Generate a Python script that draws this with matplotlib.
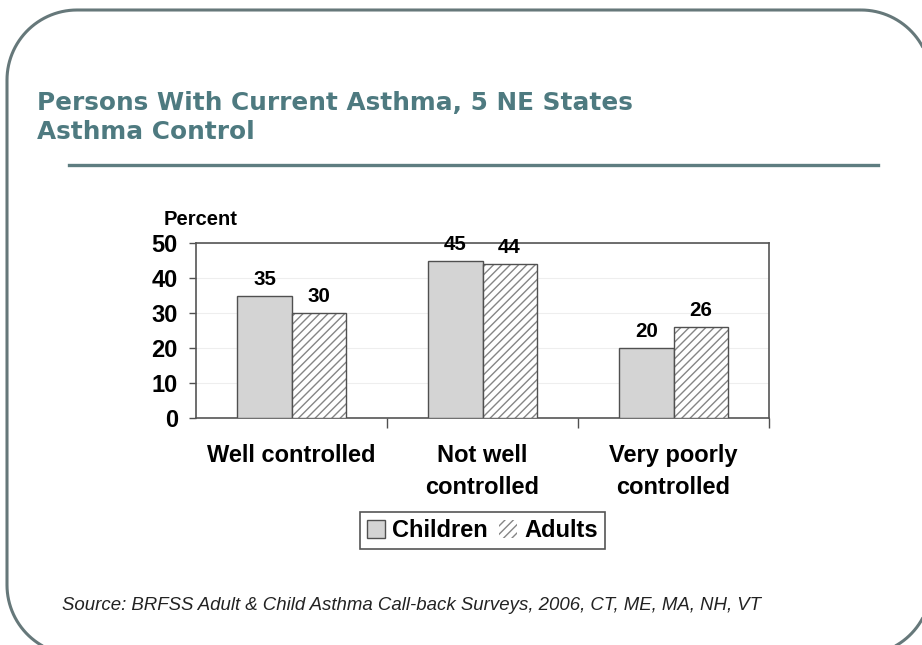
import numpy as np
import matplotlib
matplotlib.use("Agg")
import matplotlib.pyplot as plt
from matplotlib.lines import Line2D

# dados
categorias = ["Well controlled", "Not well\ncontrolled", "Very poorly\ncontrolled"]
criancas = [35, 45, 20]
adultos = [30, 44, 26]
series = ["Children", "Adults"]
yticks = [0, 10, 20, 30, 40, 50]

titulo = "Persons With Current Asthma, 5 NE States\nAsthma Control"
fonte = "Source: BRFSS Adult & Child Asthma Call-back Surveys, 2006, CT, ME, MA, NH, VT"

plt.rcParams['font.family'] = ['Liberation Sans', 'DejaVu Sans']

fig = plt.figure(figsize=(9.22, 6.45), dpi=100)
W, H = 922, 645


def retangulo_arredondado(x0, y0, x1, y1, r, n=30):
    """Contorno de um retângulo com cantos arredondados (em pixels)."""
    xs, ys = [], []
    cantos = [(x1 - r, y0 + r, -90, 0), (x1 - r, y1 - r, 0, 90),
              (x0 + r, y1 - r, 90, 180), (x0 + r, y0 + r, 180, 270)]
    for cx, cy, a0, a1 in cantos:
        t = np.radians(np.linspace(a0, a1, n))
        xs.extend(cx + r * np.cos(t))
        ys.extend(cy + r * np.sin(t))
    xs.append(xs[0])
    ys.append(ys[0])
    return xs, ys


# camada de fundo em pixels para a moldura do slide
fundo = fig.add_axes([0, 0, 1, 1], zorder=-1)
fundo.set_xlim(0, W)
fundo.set_ylim(H, 0)
fundo.axis("off")
mx, my = retangulo_arredondado(7, 10, 931, 655, 70)
fundo.plot(mx, my, color="#66787a", linewidth=2.2, clip_on=False,
           solid_capstyle="butt", solid_joinstyle="round")
fundo.add_line(Line2D([69, 878], [165, 165], color="#5e7d80", linewidth=2.4))

# título
fig.text(37 / W, 1 - 91 / H, titulo, ha="left", va="top", fontsize=17.8,
         fontweight="heavy", color="#4e7a80", family="DejaVu Sans",
         linespacing=1.24)

# --- gráfico de barras ---
ax = fig.add_axes([196 / W, 1 - 418 / H, 573 / W, 175 / H])
x = np.arange(len(categorias))
largura = 0.283

plt.rcParams['hatch.color'] = "#858585"
plt.rcParams['hatch.linewidth'] = 1.0
b1 = ax.bar(x - largura / 2, criancas, largura, color="#d4d4d4",
            edgecolor="#505050", linewidth=1, label=series[0], zorder=3)
b2 = ax.bar(x + largura / 2, adultos, largura, color="white", hatch="////",
            edgecolor="#858585", linewidth=0, label=series[1], zorder=3)
# contorno escuro das barras hachuradas
ax.bar(x + largura / 2, adultos, largura, fill=False, edgecolor="#505050",
       linewidth=1, zorder=4)

ax.bar_label(b1, padding=5, fontsize=14.8, fontweight="bold")
ax.bar_label(b2, padding=5, fontsize=14.8, fontweight="bold")

ax.set_xlim(-0.5, 2.5)
ax.set_ylim(0, 50)
ax.set_yticks(yticks)
ax.tick_params(axis="y", labelsize=17, length=5, width=1, color="#505050", pad=8)
for lbl in ax.get_yticklabels():
    lbl.set_fontweight("bold")

# separadores das categorias (ticks maiores) e rótulos (ticks menores)
ax.set_xticks([0.5, 1.5, 2.5])
ax.set_xticklabels([])
ax.tick_params(axis="x", which="major", length=7, width=1, color="#505050")
ax.set_xticks(x, minor=True)
ax.set_xticklabels(categorias, minor=True, fontsize=17, fontweight="bold",
                   linespacing=1.5)
ax.tick_params(axis="x", which="minor", length=0, pad=19)

for s in ax.spines.values():
    s.set_color("#555555")
    s.set_linewidth(1.2)

ax.yaxis.grid(True, color="#eeeeee", linewidth=0.8, zorder=0)
ax.set_axisbelow(True)

ax.text(-0.056, 1.08, "Percent", transform=ax.transAxes, ha="left", va="bottom",
        fontsize=14.5, fontweight="bold")

leg = ax.legend(loc="upper center", bbox_to_anchor=(0.5, -0.47), ncol=2,
                prop={"weight": "bold", "size": 17},
                fancybox=False, edgecolor="#555555", framealpha=1,
                handlelength=0.75, handleheight=0.75, handletextpad=0.3,
                columnspacing=0.5, borderpad=0.3)
leg.get_frame().set_linewidth(1.2)

fig.text(62 / W, 1 - 605 / H, fonte, ha="left", va="center", fontsize=13.4,
         style="italic", color="#222222")

fig.savefig("out.png", dpi=100)
